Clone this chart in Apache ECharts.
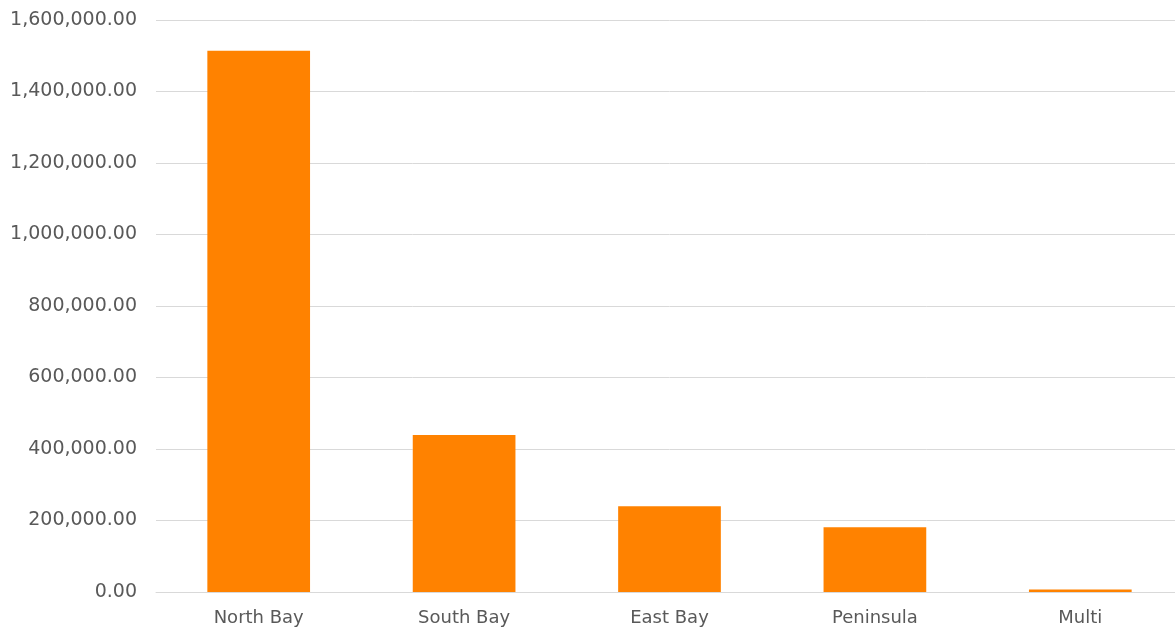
<!DOCTYPE html>
<html>
<head>
<meta charset="utf-8">
<script src="https://cdn.jsdelivr.net/npm/echarts@6/dist/echarts.min.js"></script>
<style>
html,body{margin:0;padding:0;background:#fff;overflow:hidden;width:1175px;height:633px;}
#chart{width:1183px;height:633px;}
</style>
</head>
<body>
<div id="chart"></div>
<script>
const categories = ["North Bay", "South Bay", "East Bay", "Peninsula", "Multi"];
const values = [1514000, 439000, 240000, 181000, 7000];
const yTicks = { min: 0, max: 1600000, interval: 200000 };

const chart = echarts.init(document.getElementById('chart'));
chart.setOption({
  animation: false,
  grid: { left: 156, right: 0, top: 20, bottom: 41 },
  xAxis: {
    type: 'category',
    data: categories,
    axisLine: { lineStyle: { color: '#d9d9d9', width: 1 } },
    axisTick: { show: false },
    axisLabel: { color: '#595959', fontSize: 18, fontFamily: 'DejaVu Sans', margin: 17 }
  },
  yAxis: {
    type: 'value',
    min: yTicks.min, max: yTicks.max, interval: yTicks.interval,
    axisLine: { show: false },
    axisTick: { show: false },
    splitLine: { lineStyle: { color: '#d9d9d9', width: 1 } },
    axisLabel: {
      color: '#595959', fontSize: 19, fontFamily: 'DejaVu Sans', margin: 19,
      formatter: v => v.toLocaleString('en-US', { minimumFractionDigits: 2, maximumFractionDigits: 2 })
    }
  },
  series: [{
    type: 'bar',
    data: values,
    barWidth: '50%',
    itemStyle: { color: '#FF8200' }
  }]
});
</script>
</body>
</html>
